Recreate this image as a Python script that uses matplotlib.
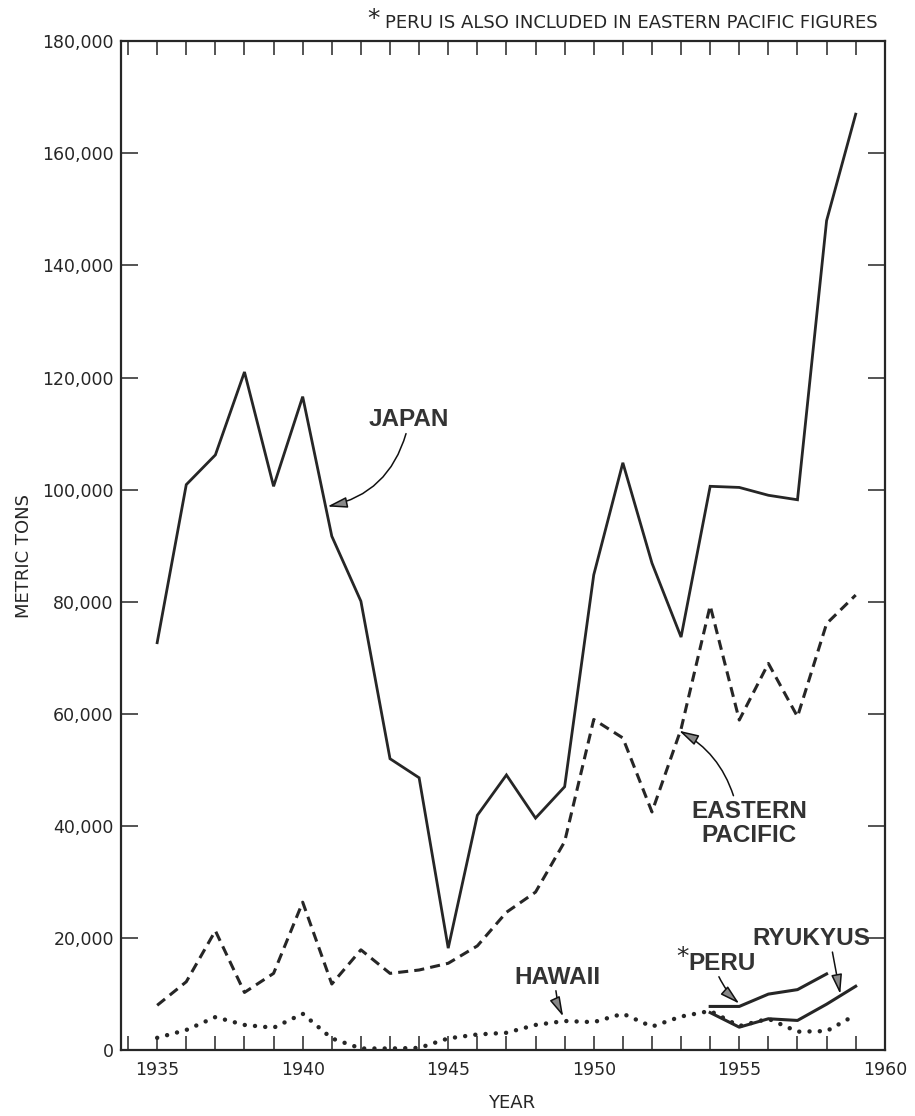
import matplotlib.pyplot as plt
from matplotlib.ticker import MultipleLocator, FuncFormatter

# annual catch, metric tons
years = list(range(1935, 1960))
japan = [72700, 100900, 106200, 121000, 100600, 116600, 91700, 80100, 52000, 48600,
         18200, 41900, 49100, 41400, 47000, 84800, 104800, 86900, 73700, 100600,
         100400, 99000, 98200, 148000, 167000]
eastern_pacific = [8000, 12200, 21300, 10300, 13700, 26400, 11800, 17900, 13700, 14300,
                   15500, 18600, 24600, 28200, 37200, 59000, 55700, 42500, 57300, 79300,
                   58900, 69000, 59500, 76100, 81200]
hawaii = [2200, 3600, 5900, 4500, 4000, 6500, 2100, 300, 300, 400,
          2100, 2800, 3100, 4500, 5200, 5000, 6500, 4200, 6000, 7000,
          4300, 5600, 3300, 3400, 6300]
peru_years = [1954, 1955, 1956, 1957, 1958]
peru = [7800, 7800, 10000, 10800, 13600]
ryukyus_years = [1954, 1955, 1956, 1957, 1958, 1959]
ryukyus = [6700, 4100, 5600, 5300, 8200, 11400]

ink = '#262626'
label_font = ['Liberation Sans', 'DejaVu Sans']

fig = plt.figure(figsize=(9.15, 11.16), dpi=100)
ax = fig.add_axes([0.132, 0.059, 0.835, 0.904])

ax.plot(years, japan, color=ink, lw=2.0, solid_joinstyle='miter')
ax.plot(years, eastern_pacific, color=ink, lw=2.2, ls=(0, (3.3, 2.0)))
ax.plot(years, hawaii, color=ink, lw=3.2, ls=(0, (0.01, 2.3)), dash_capstyle='round')
ax.plot(peru_years, peru, color=ink, lw=2.2)
ax.plot(ryukyus_years, ryukyus, color=ink, lw=2.2)

ax.set_xlim(1933.75, 1960)
ax.set_ylim(0, 180000)
ax.set_xticks(range(1935, 1961, 5))
ax.xaxis.set_minor_locator(MultipleLocator(1))
ax.set_yticks(range(0, 180001, 20000))
ax.yaxis.set_major_formatter(FuncFormatter(lambda v, p: '{:,}'.format(int(v))))

ax.tick_params(axis='x', which='both', direction='in', top=True, bottom=True,
               length=10, width=1.1, color=ink)
ax.tick_params(axis='x', which='major', labelsize=12.5, pad=8, labelcolor=ink)
ax.tick_params(axis='y', which='major', direction='in', left=True, right=True,
               length=12, width=1.1, color=ink, labelsize=12.5, pad=5, labelcolor=ink)
for s in ax.spines.values():
    s.set_linewidth(1.6)
    s.set_color(ink)

fig.text(24 / 915, 1 - 556 / 1116, 'METRIC TONS', rotation=90, ha='center', va='center',
         fontsize=13, color=ink)
fig.text(512 / 915, 1 - 1103 / 1116, 'YEAR', ha='center', va='center', fontsize=13, color=ink)

# footnote
fig.text(374 / 915, 1 - 7 / 1116, '*', ha='center', va='top', fontsize=18, color=ink)
fig.text(385 / 915, 1 - 28 / 1116, 'PERU IS ALSO INCLUDED IN EASTERN PACIFIC FIGURES',
         ha='left', va='baseline', fontsize=13, color=ink)


def callout(text, x, y, **kw):
    ax.text(x, y, text, ha='center', va='center', fontsize=17.5, fontweight='bold',
            family=label_font, color='#333333', **kw)


def arrow(start, end, rad):
    ax.annotate('', xy=end, xytext=start,
                arrowprops=dict(arrowstyle='-|>,head_length=0.8,head_width=0.22',
                                connectionstyle='arc3,rad=%s' % rad, lw=1.1,
                                ec='#111111', fc='#888888', mutation_scale=15,
                                shrinkA=0, shrinkB=0))


callout('JAPAN', 1943.66, 112600)
arrow((1943.55, 110000), (1940.85, 97000), -0.3)

callout('EASTERN\nPACIFIC', 1955.34, 40400, linespacing=1.05)
arrow((1954.8, 45400), (1952.93, 57000), 0.2)

callout('HAWAII', 1948.75, 13000)
arrow((1948.7, 10600), (1948.95, 6000), 0.08)

callout('PERU', 1954.4, 15400)
ax.text(1953.05, 16600, '*', ha='center', va='center', fontsize=18, color=ink)
arrow((1954.3, 13100), (1955.0, 8300), 0.1)

callout('RYUKYUS', 1957.47, 20000)
arrow((1958.2, 17500), (1958.47, 10000), 0.0)

fig.savefig('out.png', dpi=100)
